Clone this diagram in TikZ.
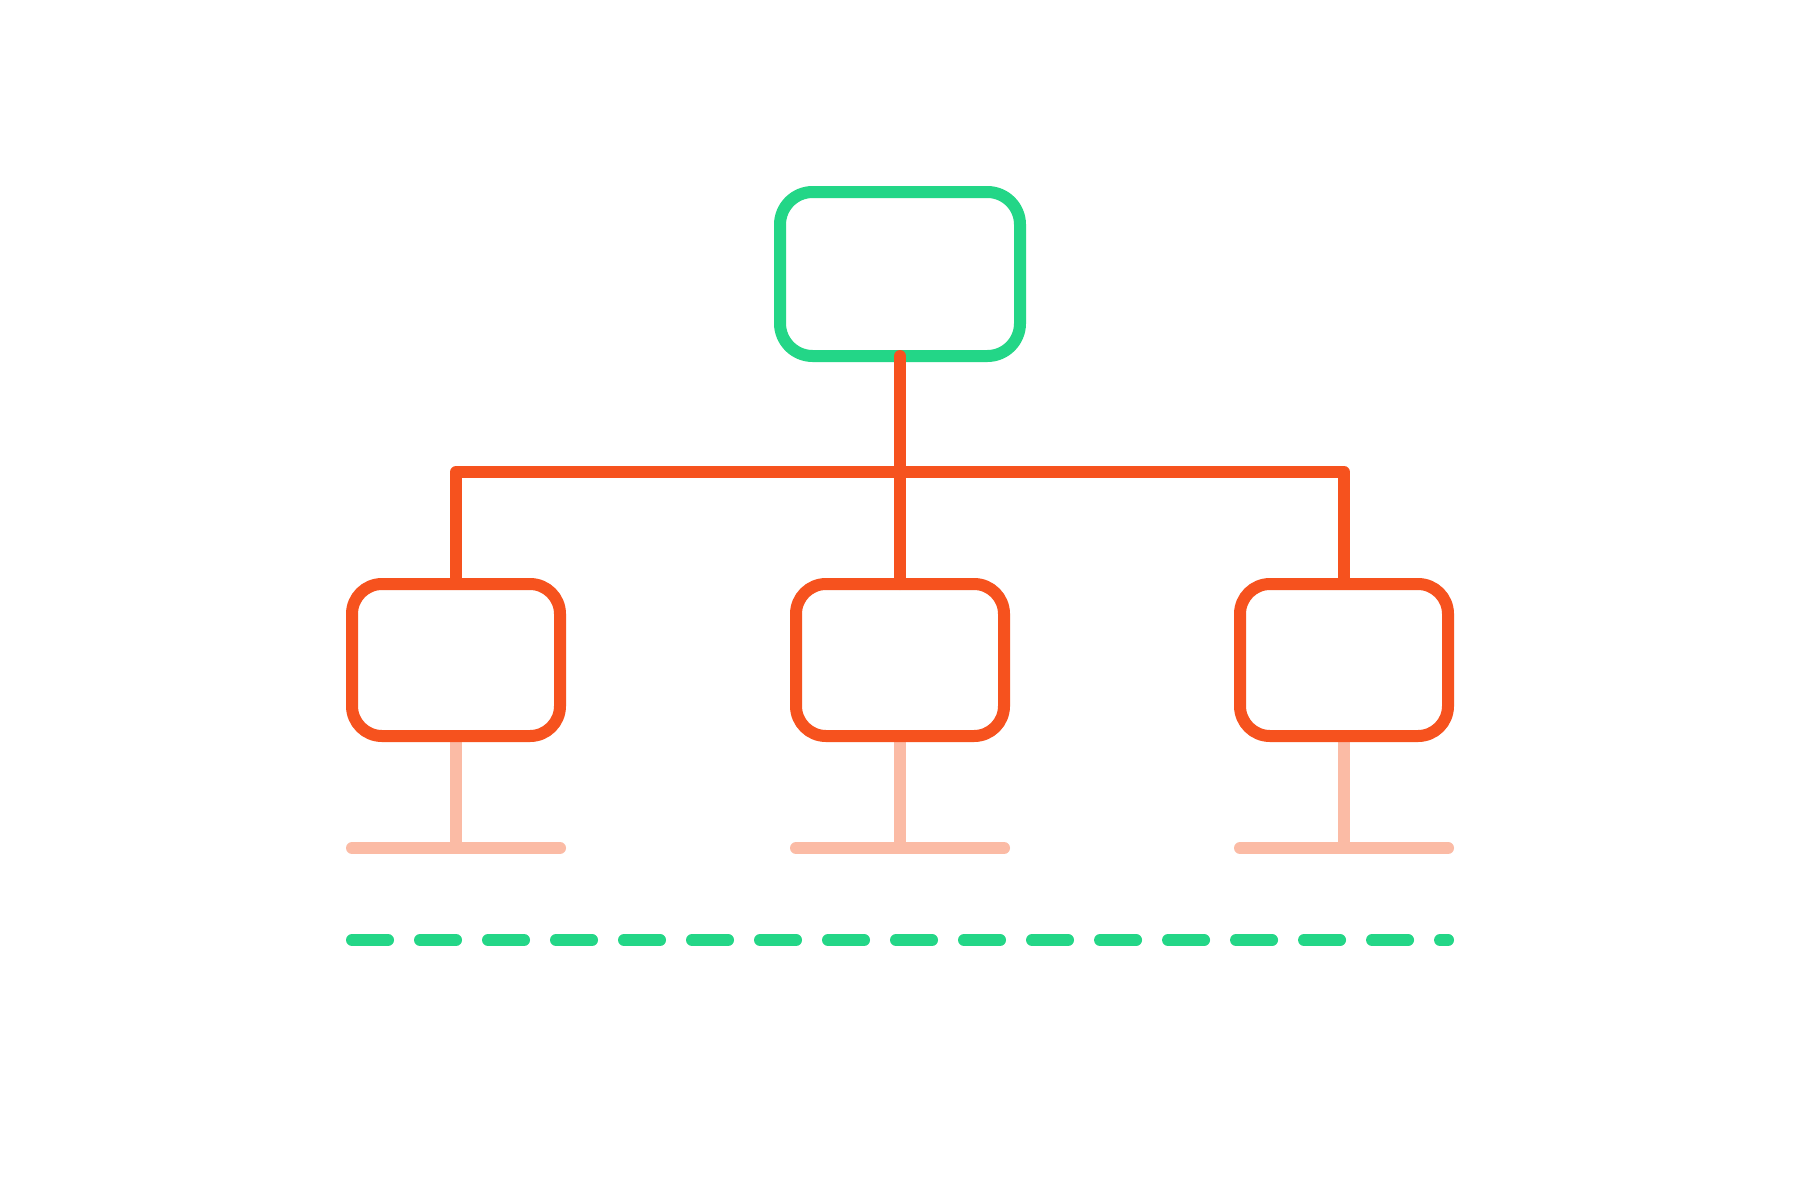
\documentclass[tikz,border=0pt]{standalone}
\usetikzlibrary{backgrounds}
\definecolor{mygreen}{HTML}{23D687}
\definecolor{myorange}{HTML}{F6521E}
\definecolor{mysalmon}{HTML}{FBBBA5}
\begin{document}
\begin{tikzpicture}[x=0.03cm,y=-0.03cm,
  boxbase/.style={draw,rectangle,line width=0.36cm,inner sep=0pt,outer sep=0pt},
  topbox/.style={boxbase,rounded corners=0.98cm,draw=mygreen,minimum width=7.2cm,minimum height=4.92cm},
  childbox/.style={boxbase,rounded corners=0.9cm,draw=myorange,minimum width=6.24cm,minimum height=4.56cm},
  conn/.style={draw=myorange,line width=0.36cm,line join=round},
  leaf/.style={draw=mysalmon,line width=0.36cm},
  dashline/.style={draw=mygreen,line width=0.36cm,line cap=round,dash pattern=on 1.08cm off 0.96cm}]
\useasboundingbox (0,0) rectangle (1800,1200);
\node[childbox] (c1) at (456,660) {};
\node[childbox] (c2) at (900,660) {};
\node[childbox] (c3) at (1344,660) {};
\node[topbox] (top) at (900,274) {};
\coordinate (bar) at (900,472);
\coordinate (b1) at (456,848);
\coordinate (b2) at (900,848);
\coordinate (b3) at (1344,848);
\coordinate (b1l) at (352,848); \coordinate (b1r) at (560,848);
\coordinate (b2l) at (796,848); \coordinate (b2r) at (1004,848);
\coordinate (b3l) at (1240,848); \coordinate (b3r) at (1448,848);
\coordinate (dl) at (352,940);
\coordinate (dr) at (1448,940);
\begin{scope}[on background layer]
  \fill[white] (0,0) rectangle (1800,1200);
  \draw[leaf] (c1.south) -- (b1);
  \draw[leaf] (c2.south) -- (b2);
  \draw[leaf] (c3.south) -- (b3);
  \draw[leaf,line cap=round] (b1l) -- (b1r);
  \draw[leaf,line cap=round] (b2l) -- (b2r);
  \draw[leaf,line cap=round] (b3l) -- (b3r);
\end{scope}
\draw[conn] (c1.north) |- (bar) -| (c3.north);
\draw[conn,line cap=round] (top.south) -- (c2.north);
\draw[dashline] (dl) -- (dr);
\end{tikzpicture}
\end{document}
